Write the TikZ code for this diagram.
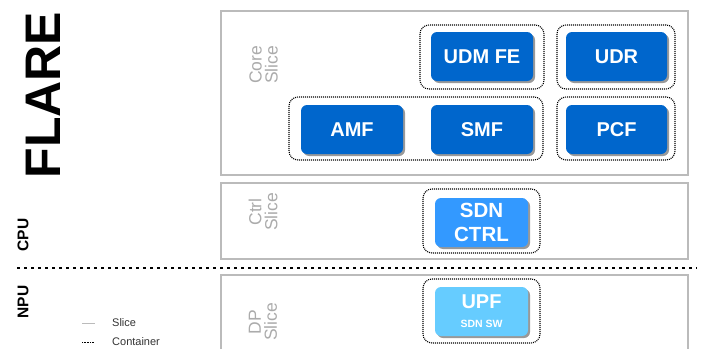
\documentclass[tikz,border=0pt]{standalone}
\usepackage{fontspec}
\setmainfont{Liberation Sans}
\usetikzlibrary{shadows}
\definecolor{nfblue}{HTML}{0066CC}
\definecolor{ctrlblue}{HTML}{3399FF}
\definecolor{upfblue}{HTML}{66CCFF}
\definecolor{slicegray}{HTML}{BBBBBB}
\definecolor{labelgray}{HTML}{ABABAB}
\definecolor{shadowgray}{HTML}{999999}
\begin{document}
\begin{tikzpicture}[x=1pt,y=-1pt,
  slicebox/.style={draw=slicegray,line width=1.3pt},
  slicelabel/.style={text=labelgray,rotate=90,align=center,font=\fontsize{17.5}{16}\selectfont,inner sep=0pt},
  container/.style={draw=black,line width=1.1pt,dash pattern=on 1pt off 1pt,rounded corners=9pt,inner sep=0pt},
  nf/.style={fill=nfblue,rounded corners=6pt,text=white,font=\bfseries\fontsize{20}{22}\selectfont,align=center,inner sep=0pt,
    drop shadow={shadow xshift=2pt,shadow yshift=-2pt,fill=shadowgray,opacity=1}},
  sidelabel/.style={rotate=90,font=\bfseries\fontsize{15.5}{16}\selectfont,inner sep=0pt}
]
\useasboundingbox (0,0) rectangle (701,348);
\begin{scope}
\clip (0,0) rectangle (701,348);
% slices
\draw[slicebox] (221,11) rectangle (688,175);
\draw[slicebox] (221,183) rectangle (688,259);
\draw[slicebox] (221,275) rectangle (688,360);
\end{scope}
\node[slicelabel] (lcore) at (263.5,65) {Core\\Slice};
\node[slicelabel] (lctrl) at (263,212) {Ctrl\\Slice};
\node[slicelabel] (ldp) at (263,322) {DP\\Slice};
% containers
\node[container,minimum width=124pt,minimum height=64pt] (c1) at (482,57) {};
\node[container,minimum width=118pt,minimum height=64pt] (c2) at (616,57) {};
\node[container,minimum width=254pt,minimum height=63pt] (c3) at (416,128.5) {};
\node[container,minimum width=118pt,minimum height=63pt] (c4) at (616,128.5) {};
\node[container,minimum width=117pt,minimum height=64pt] (c5) at (481.5,221) {};
\node[container,minimum width=117pt,minimum height=64pt] (c6) at (481.5,311) {};
% network functions
\node[nf,minimum width=102pt,minimum height=49pt] (udm) at (482,56.5) {UDM FE};
\node[nf,minimum width=101pt,minimum height=49pt] (udr) at (616.5,56.5) {UDR};
\node[nf,minimum width=102pt,minimum height=49pt] (amf) at (352,129.5) {AMF};
\node[nf,minimum width=102pt,minimum height=49pt] (smf) at (482,129.5) {SMF};
\node[nf,minimum width=101pt,minimum height=49pt] (pcf) at (616.5,129.5) {PCF};
\node[nf,fill=ctrlblue,minimum width=93pt,minimum height=49pt,font=\bfseries\fontsize{20.5}{24}\selectfont] (sdn) at (481.5,222.5) {SDN\\CTRL};
\node[nf,fill=upfblue,minimum width=93pt,minimum height=49pt] (upf) at (481.5,311.5) {UPF\\[-3pt]{\fontsize{10.5}{11}\selectfont SDN SW}};
% side labels
\node[rotate=90,font=\bfseries\fontsize{50}{50}\selectfont,inner sep=0pt] (flare) at (43,95) {FLARE};
\node[sidelabel] (cpu) at (23,235) {CPU};
\node[sidelabel] (npu) at (23,302) {NPU};
\coordinate (dl) at (17,268);
\coordinate (dr) at (697,268);
\draw[black,line width=1.1pt,dash pattern=on 3pt off 4pt] (dl) -- (dr);
% legend
\coordinate (ls1) at (82,323);
\coordinate (ls2) at (95,323);
\coordinate (lc1) at (82,342);
\coordinate (lc2) at (94,342);
\draw[slicegray,line width=1pt] (ls1) -- (ls2);
\draw[black,line width=0.9pt,dash pattern=on 0.8pt off 0.8pt] (lc1) -- (lc2);
\node[anchor=west,inner sep=0pt,text=black!80,font=\fontsize{11}{12}\selectfont] (lslice) at (112,323) {Slice};
\node[anchor=west,inner sep=0pt,text=black!80,font=\fontsize{11}{12}\selectfont] (lcont) at (112,342) {Container};
\end{tikzpicture}
\end{document}
